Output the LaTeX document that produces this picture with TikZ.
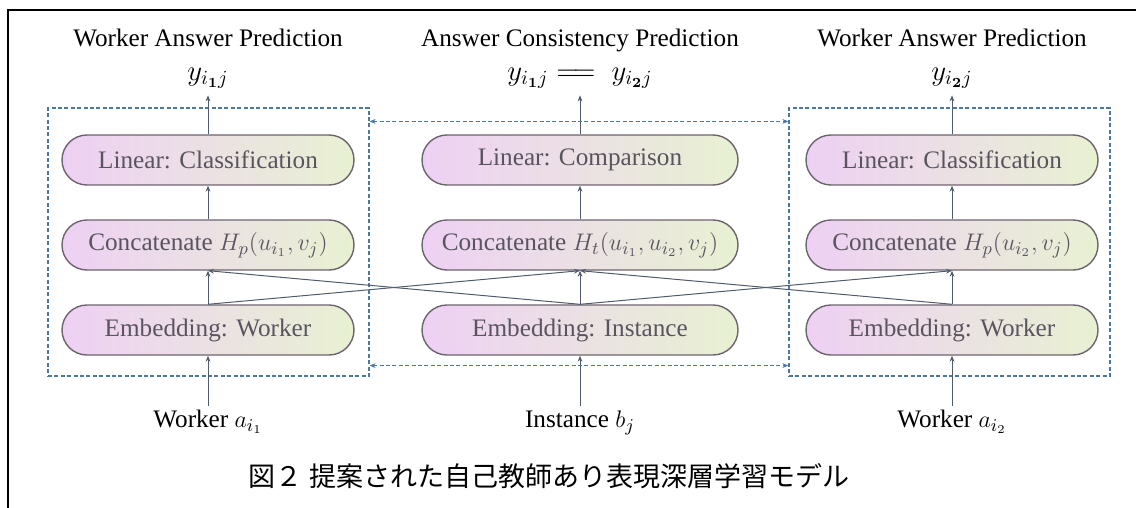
\documentclass[tikz,border=0pt]{standalone}
\usepackage{amsmath,bm}
\usepackage{fontspec}
\setmainfont{Liberation Serif}
\newfontfamily\cjk{Noto Sans CJK JP}
\usetikzlibrary{arrows.meta,positioning,calc}
\definecolor{boxline}{RGB}{74,120,160}
\definecolor{nodeline}{RGB}{110,100,112}
\definecolor{nodetext}{RGB}{90,84,96}
\definecolor{pinkfill}{RGB}{238,208,244}
\definecolor{greenfill}{RGB}{232,241,210}
\definecolor{wirecol}{RGB}{80,92,108}

\begin{document}
\begin{tikzpicture}[x=0.5pt,y=-0.5pt,>={Stealth[length=3pt,width=2.4pt]},
    layer/.style={draw=nodeline,line width=0.7pt,rounded corners=12.5pt,
        left color=pinkfill,right color=greenfill,minimum height=25pt,
        minimum width=146pt,inner sep=0pt,text=nodetext,
        font=\fontsize{12.6}{15}\selectfont},
    widelayer/.style={layer,minimum width=158pt},
    heading/.style={font=\fontsize{12.6}{15}\selectfont,text height=0.7em,text depth=0.25em},
    result/.style={font=\fontsize{14}{16}\selectfont},
    dashbox/.style={draw=boxline,line width=0.6pt,dash pattern=on 2pt off 1.2pt,
        minimum width=160.5pt,minimum height=134pt,inner sep=0pt},
    boxarrow/.style={<->,draw=boxline,line width=0.6pt,dash pattern=on 2pt off 1.2pt},
    wire/.style={->,draw=wirecol,line width=0.5pt}]
    \useasboundingbox (0,0) rectangle (1136,508);

    % Draw frame
    \draw[line width=1.2pt] (8,508) -- (8,10) -- (1136,10);

    % Draw worker groups
    \node[dashbox] (boxL) at (208.5,242) {};
    \node[dashbox] (boxR) at (949.5,242) {};

    % Draw headings
    \node[heading] (headL) at (208,42) {Worker Answer Prediction};
    \node[heading] (headC) at (580,42) {Answer Consistency Prediction};
    \node[heading] (headR) at (952,42) {Worker Answer Prediction};

    % Draw outputs
    \node[result] (outL) at (208,78) {$y_{i_{\bm{1}}j}$};
    \node[result] (outC) at (580,78) {$y_{i_{\bm{1}}j} \mathrel{=\!=}\; y_{i_{\bm{2}}j}$};
    \node[result] (outR) at (952,78) {$y_{i_{\bm{2}}j}$};

    % Draw layers
    \node[layer] (linL) at (208,160) {Linear: Classification};
    \node[layer] (catL) at (208,245) {Concatenate $H_p(u_{i_1},v_j)$};
    \node[layer] (embL) at (208,330) {Embedding: Worker};
    \node[widelayer] (linC) at (580,160) {Linear: Comparison};
    \node[widelayer] (catC) at (580,245) {Concatenate $H_t(u_{i_1},u_{i_2},v_j)$};
    \node[widelayer] (embC) at (580,330) {Embedding: Instance};
    \node[layer] (linR) at (952,160) {Linear: Classification};
    \node[layer] (catR) at (952,245) {Concatenate $H_p(u_{i_2},v_j)$};
    \node[layer] (embR) at (952,330) {Embedding: Worker};

    % Draw inputs
    \node[heading] (inL) at (208,423) {Worker $a_{i_1}$};
    \node[heading] (inC) at (580,423) {Instance $b_j$};
    \node[heading] (inR) at (952,423) {Worker $a_{i_2}$};

    % Draw caption
    \node[font=\cjk\fontsize{13.5}{16}\selectfont] (caption) at (549,476)
        {図２ 提案された自己教師あり表現深層学習モデル};

    % Draw vertical flow
    \foreach \col in {L,C,R} {
        \draw[wire] (in\col) -- (emb\col);
        \draw[wire] (emb\col) -- (cat\col);
        \draw[wire] (cat\col) -- (lin\col);
        \draw[wire] (lin\col) -- (out\col);
    }

    % Draw crossing links
    \draw[wire] (embL.north) -- (catC.south);
    \draw[wire] (embC.north) -- (catL.south);
    \draw[wire] (embC.north) -- (catR.south);
    \draw[wire] (embR.north) -- (catC.south);

    % Draw shared links between groups
    \draw[boxarrow] ([yshift=-7pt]boxL.north east) -- ([yshift=-7pt]boxR.north west);
    \draw[boxarrow] ([yshift=5.5pt]boxL.south east) -- ([yshift=5.5pt]boxR.south west);
\end{tikzpicture}
\end{document}
